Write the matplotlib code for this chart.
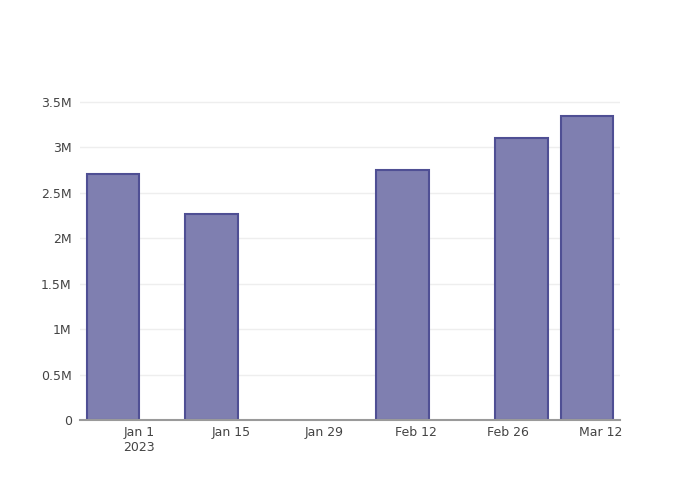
import numpy as np
import matplotlib
matplotlib.use("Agg")
import matplotlib.pyplot as plt
import matplotlib.dates as mdates

# data
dates = np.array(["2022-12-28", "2023-01-12", "2023-02-10", "2023-02-28", "2023-03-10"], dtype="datetime64[D]")
values = [2705000, 2263000, 2749000, 3103000, 3345000]

tick_dates = np.array(["2023-01-01", "2023-01-15", "2023-01-29", "2023-02-12", "2023-02-26", "2023-03-12"], dtype="datetime64[D]")
tick_labels = ["Jan 1\n2023", "Jan 15", "Jan 29", "Feb 12", "Feb 26", "Mar 12"]
y_ticks = [0, 500000, 1000000, 1500000, 2000000, 2500000, 3000000, 3500000]
y_labels = ["0", "0.5M", "1M", "1.5M", "2M", "2.5M", "3M", "3.5M"]


def to_num(d):
    return mdates.date2num(d.astype("datetime64[s]").astype(object))


fig = plt.figure(figsize=(7, 5), dpi=100)
ax = fig.add_axes([80/700, 80/500, 540/700, 320/500])

ax.bar(to_num(dates), values, width=8, color="#7f7fb0", edgecolor="#4f4f94", linewidth=1.5, zorder=3)

ax.set_xlim(to_num(np.datetime64("2022-12-23")), to_num(np.datetime64("2023-03-15")))
ax.set_ylim(0, 3522000)

ax.set_xticks(to_num(tick_dates))
ax.set_xticklabels(tick_labels)
ax.set_yticks(y_ticks)
ax.set_yticklabels(y_labels)

ax.tick_params(axis="both", length=0, labelsize=9, colors="#444444")
ax.tick_params(axis="x", pad=4)
ax.tick_params(axis="y", pad=6)

ax.grid(axis="y", color="#eeeeee", linewidth=1, zorder=0)
for s in ["top", "right", "left"]:
    ax.spines[s].set_visible(False)
ax.spines["bottom"].set_color("#9a9a9a")
ax.spines["bottom"].set_linewidth(1.5)
ax.spines["bottom"].set_zorder(4)

fig.savefig("out.png", dpi=100)
